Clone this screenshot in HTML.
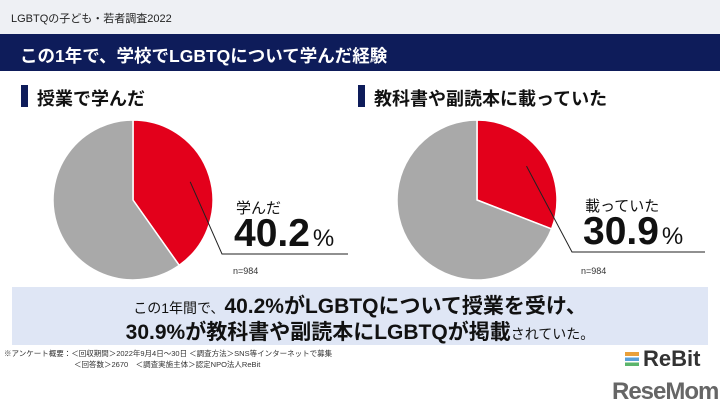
<!DOCTYPE html>
<html><head><meta charset="utf-8">
<style>
body{margin:0;width:720px;height:417px;overflow:hidden;background:#fff;font-family:"Liberation Sans","Noto Sans CJK JP",sans-serif;position:relative}
.a{position:absolute;white-space:nowrap}
</style></head><body>
<div class="a" style="left:0;top:0;width:720px;height:34px;background:#eef0f4"></div>
<div class="a" style="left:11px;top:10px;font-size:11px;color:#222">LGBTQの子ども・若者調査2022</div>
<div class="a" style="left:0;top:34px;width:720px;height:37px;background:#0e1c5a"></div>
<div class="a" style="left:20px;top:43px;font-size:17.5px;font-weight:bold;color:#fff">この1年で、学校でLGBTQについて学んだ経験</div>
<div class="a" style="left:21px;top:85px;width:7px;height:22px;background:#0e1c5a"></div>
<div class="a" style="left:37px;top:85px;font-size:18px;font-weight:bold;color:#111">授業で学んだ</div>
<div class="a" style="left:358px;top:85px;width:7px;height:22px;background:#0e1c5a"></div>
<div class="a" style="left:374px;top:85px;font-size:18px;font-weight:bold;color:#111">教科書や副読本に載っていた</div>

<svg class="a" id="pies" style="left:0;top:0" width="720" height="417"></svg>

<div class="a" style="left:236px;top:197px;font-size:15px;color:#111">学んだ</div>
<div class="a" style="left:234px;top:212px;font-size:39px;font-weight:bold;color:#111">40.2<span style="font-size:24px;font-weight:normal;margin-left:3px">%</span></div>
<div class="a" style="left:233px;top:266px;font-size:9px;color:#333">n=984</div>
<div class="a" style="left:585px;top:195px;font-size:15px;color:#111">載っていた</div>
<div class="a" style="left:583px;top:210px;font-size:39px;font-weight:bold;color:#111">30.9<span style="font-size:24px;font-weight:normal;margin-left:3px">%</span></div>
<div class="a" style="left:581px;top:266px;font-size:9px;color:#333">n=984</div>

<div class="a" style="left:12px;top:287px;width:696px;height:58px;background:#dfe6f5"></div>
<div class="a" style="left:0;width:720px;text-align:center;top:290px;font-size:14px;color:#111">この1年間で、<b style="font-size:21px">40.2%がLGBTQについて授業を受け、</b></div>
<div class="a" style="left:0;width:720px;text-align:center;top:316px;font-size:14px;color:#111"><b style="font-size:21px">30.9%が教科書や副読本にLGBTQが掲載</b>されていた。</div>
<div class="a" style="left:4px;top:348px;font-size:7.5px;color:#333;line-height:11px">※アンケート概要：＜回収期間＞2022年9月4日～30日 ＜調査方法＞SNS等インターネットで募集<br><span style="margin-left:70px">＜回答数＞2670　＜調査実施主体＞認定NPO法人ReBit</span></div>
<div class="a" style="left:625px;top:346px;font-size:22px;font-weight:bold;color:#333"><span style="display:inline-block;width:14px;height:14px;background:linear-gradient(#e9a03a 0 30%,#fff 30% 40%,#5aa0d8 40% 65%,#fff 65% 75%,#5bb56b 75%);margin-right:4px"></span>ReBit</div>
<div class="a" style="left:612px;top:378px;font-size:24px;font-weight:bold;color:#666;letter-spacing:-1px">ReseMom</div>

<script>
const categories=["授業で学んだ","教科書や副読本に載っていた"];
const values=[40.2,30.9];
const svg=document.getElementById('pies');
const NS='http://www.w3.org/2000/svg';
const centers=[[133,200],[477,200]];
const R=80;
function pt(c,f){const a=f*2*Math.PI;return [c[0]+R*Math.sin(a),c[1]-R*Math.cos(a)];}
function arc(c,f0,f1,color){
  const p0=pt(c,f0),p1=pt(c,f1),large=(f1-f0)>0.5?1:0;
  const p=document.createElementNS(NS,'path');
  p.setAttribute('d',`M${c[0]},${c[1]}L${p0[0]},${p0[1]}A${R},${R} 0 ${large} 1 ${p1[0]},${p1[1]}Z`);
  p.setAttribute('fill',color);p.setAttribute('stroke','#fff');p.setAttribute('stroke-width','1.5');
  return p;
}
values.forEach((v,i)=>{
  const c=centers[i],f=v/100;
  const s1=arc(c,0,f,'#e3001b');
  
  
  svg.appendChild(s1);
  const s2=arc(c,f,1,'#a9a9a9');
  
  
  svg.appendChild(s2);
  const m=pt(c,f/2);
  const sx=c[0]+(m[0]-c[0])*0.75,sy=c[1]+(m[1]-c[1])*0.75;
  const ey=254-i*2;
  const lx=i===0?222:572;
  const l=document.createElementNS(NS,'polyline');
  l.setAttribute('points',`${sx},${sy} ${lx},${ey} ${i===0?348:705},${ey}`);
  l.setAttribute('fill','none');l.setAttribute('stroke','#222');l.setAttribute('stroke-width','1');
  
  
  svg.appendChild(l);
});
</script>
</body></html>
